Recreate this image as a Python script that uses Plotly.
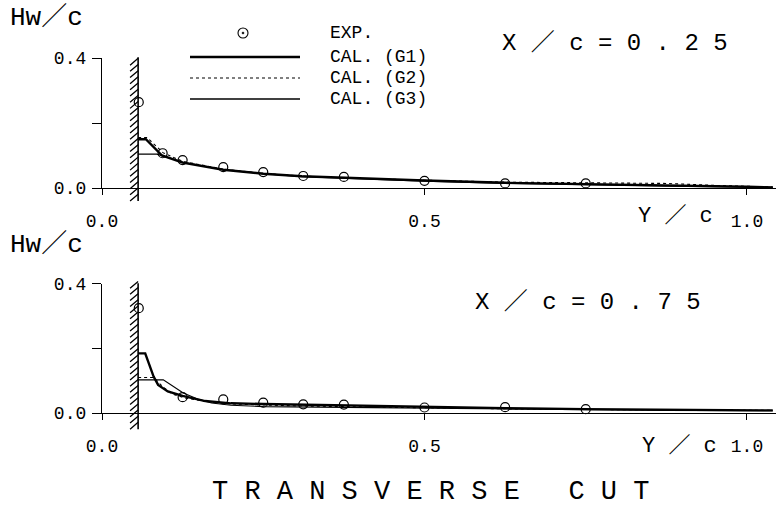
import plotly.graph_objects as go

# ---------------- data ----------------
WALL = 0.056

# top panel  X/c = 0.25
exp_y_top = [0.057, 0.094, 0.125, 0.188, 0.25, 0.312, 0.375, 0.5, 0.625, 0.75]
exp_h_top = [0.264, 0.107, 0.086, 0.064, 0.049, 0.037, 0.034, 0.022, 0.014, 0.014]

g1_y_top = [0.056, 0.068, 0.093, 0.125, 0.188, 0.25, 0.31, 0.375, 0.5, 0.625, 0.75, 0.875, 1.0, 1.04]
g1_h_top = [0.150, 0.150, 0.100, 0.078, 0.056, 0.044, 0.036, 0.031, 0.023, 0.016, 0.011, 0.008, 0.004, 0.002]
g2_y_top = [0.056, 0.070, 0.095, 0.125, 0.188, 0.25, 0.31, 0.375, 0.5, 0.625, 0.75, 0.875, 0.95, 1.0, 1.04]
g2_h_top = [0.155, 0.155, 0.108, 0.082, 0.058, 0.045, 0.037, 0.031, 0.024, 0.018, 0.016, 0.014, 0.008, 0.005, 0.003]
g3_y_top = [0.056, 0.085, 0.095, 0.125, 0.188, 0.25, 0.31, 0.375, 0.5, 0.625, 0.75, 0.875, 1.0, 1.04]
g3_h_top = [0.104, 0.104, 0.098, 0.080, 0.057, 0.044, 0.035, 0.030, 0.021, 0.014, 0.009, 0.006, 0.003, 0.002]

# bottom panel  X/c = 0.75
exp_y_bot = [0.057, 0.125, 0.188, 0.25, 0.312, 0.375, 0.5, 0.625, 0.75]
exp_h_bot = [0.325, 0.049, 0.042, 0.032, 0.027, 0.026, 0.017, 0.018, 0.012]

g1_y_bot = [0.056, 0.067, 0.080, 0.087, 0.102, 0.125, 0.16, 0.2, 0.25, 0.3, 0.4, 0.5, 0.625, 0.75, 0.875, 1.0, 1.04]
g1_h_bot = [0.185, 0.185, 0.113, 0.087, 0.067, 0.053, 0.037, 0.030, 0.028, 0.026, 0.022, 0.018, 0.015, 0.012, 0.010, 0.009, 0.008]
g2_y_bot = [0.056, 0.080, 0.095, 0.110, 0.130, 0.16, 0.2, 0.25, 0.3, 0.4, 0.5, 0.625, 0.75, 0.875, 1.0, 1.04]
g2_h_bot = [0.110, 0.110, 0.080, 0.058, 0.046, 0.036, 0.028, 0.024, 0.022, 0.019, 0.016, 0.013, 0.011, 0.009, 0.008, 0.008]
g3_y_bot = [0.056, 0.095, 0.126, 0.15, 0.17, 0.2, 0.25, 0.3, 0.4, 0.5, 0.625, 0.75, 0.875, 1.0, 1.04]
g3_h_bot = [0.103, 0.103, 0.062, 0.042, 0.031, 0.024, 0.020, 0.019, 0.017, 0.015, 0.012, 0.010, 0.008, 0.007, 0.007]

x_ticks = [0.0, 0.5, 1.0]
x_ticktext = ["0.0", "0.5", "1.0"]
y_ticks = [0.0, 0.2, 0.4]
y_ticktext = ["0.0", "", "0.4"]
panel_labels = ["X ／ c = 0 . 2 5", "X ／ c = 0 . 7 5"]
legend_labels = ["EXP.", "CAL. (G1)", "CAL. (G2)", "CAL. (G3)"]

# ---------------- layout geometry ----------------
W, H = 781, 507
ML, MR, MT, MB = 102, 5, 58, 94
XR = [0.0, 1.045]
YR = [0.0, 0.4]
DOM_TOP = [0.6338, 1.0]
DOM_BOT = [0.0, 0.3634]

PW = W - ML - MR
PH = H - MT - MB


def px2x(px):
    return (px - ML) / PW


def py2y(py):
    return (H - MB - py) / PH


def dx2paper(x):
    return (x - XR[0]) / (XR[1] - XR[0])


def dy2paper(v, dom):
    return dom[0] + (v - YR[0]) / (YR[1] - YR[0]) * (dom[1] - dom[0])


MONO = "Liberation Mono, Noto Sans CJK JP, monospace"
TICKFONT = dict(family="Liberation Mono", size=18, color="black")

fig = go.Figure()

panels = [
    ("x", "y", exp_y_top, exp_h_top, g1_y_top, g1_h_top, g2_y_top, g2_h_top, g3_y_top, g3_h_top),
    ("x2", "y2", exp_y_bot, exp_h_bot, g1_y_bot, g1_h_bot, g2_y_bot, g2_h_bot, g3_y_bot, g3_h_bot),
]
for xa, ya, ex, eh, a1, b1, a2, b2, a3, b3 in panels:
    fig.add_trace(go.Scatter(x=a3, y=b3, mode="lines", xaxis=xa, yaxis=ya,
                             line=dict(color="black", width=1.2), showlegend=False))
    fig.add_trace(go.Scatter(x=a2, y=b2, mode="lines", xaxis=xa, yaxis=ya,
                             line=dict(color="black", width=1.1, dash="dot"), showlegend=False))
    fig.add_trace(go.Scatter(x=a1, y=b1, mode="lines", xaxis=xa, yaxis=ya,
                             line=dict(color="black", width=2.4), showlegend=False))
    fig.add_trace(go.Scatter(x=ex, y=eh, mode="markers", xaxis=xa, yaxis=ya, cliponaxis=False,
                             marker=dict(symbol="circle-open", size=9, color="black",
                                         line=dict(width=1.2, color="black")),
                             showlegend=False))

xax = dict(range=XR, showgrid=False, zeroline=False, showline=True, linecolor="black",
           linewidth=1.3, ticks="outside", ticklen=6, tickwidth=1, tickcolor="black",
           tickvals=x_ticks, ticktext=x_ticktext, tickfont=TICKFONT, ticklabelstandoff=10)
yax = dict(range=YR, showgrid=False, zeroline=False, showline=True, linecolor="black",
           linewidth=1.3, ticks="outside", ticklen=9, tickwidth=1.2, tickcolor="black",
           tickvals=y_ticks, ticktext=y_ticktext, tickfont=TICKFONT, ticklabelstandoff=2)

fig.update_layout(
    width=W, height=H,
    margin=dict(l=ML, r=MR, t=MT, b=MB),
    paper_bgcolor="white", plot_bgcolor="white",
    showlegend=False,
    xaxis=dict(xax, anchor="y"),
    yaxis=dict(yax, domain=DOM_TOP, anchor="x"),
    xaxis2=dict(xax, anchor="y2"),
    yaxis2=dict(yax, domain=DOM_BOT, anchor="x2"),
)

shapes = []
# ---- hatched wall in each panel ----
for dom, vlo in [(DOM_TOP, -0.04), (DOM_BOT, -0.05)]:
    xw = dx2paper(WALL)
    xl = dx2paper(WALL - 0.0125)
    shapes.append(dict(type="line", xref="paper", yref="paper", x0=xw, x1=xw,
                       y0=dy2paper(vlo, dom), y1=dy2paper(0.402, dom),
                       line=dict(color="black", width=1.6)))
    path = ""
    v = vlo
    while v < 0.39:
        path += "M{:.5f},{:.5f} L{:.5f},{:.5f} ".format(xl, dy2paper(v, dom), xw, dy2paper(v + 0.021, dom))
        v += 0.019
    shapes.append(dict(type="path", xref="paper", yref="paper", path=path,
                       line=dict(color="black", width=1.3)))

# ---- legend ----
leg_y = [33, 57, 78, 99]
cx, cy = 243, leg_y[0]
shapes.append(dict(type="circle", xref="paper", yref="paper",
                   x0=px2x(cx - 5), x1=px2x(cx + 5), y0=py2y(cy + 5), y1=py2y(cy - 5),
                   line=dict(color="black", width=1.1)))
shapes.append(dict(type="circle", xref="paper", yref="paper", fillcolor="black",
                   x0=px2x(cx - 1), x1=px2x(cx + 1), y0=py2y(cy + 1), y1=py2y(cy - 1),
                   line=dict(color="black", width=0.5)))
leg_styles = [dict(width=2.4), dict(width=1.1, dash="dot"), dict(width=1.6)]
for i, st in enumerate(leg_styles):
    shapes.append(dict(type="line", xref="paper", yref="paper",
                       x0=px2x(190), x1=px2x(300), y0=py2y(leg_y[i + 1]), y1=py2y(leg_y[i + 1]),
                       line=dict(color="black", **st)))

fig.update_layout(shapes=shapes)

ann = []
for i, t in enumerate(legend_labels):
    ann.append(dict(text=t, x=px2x(328), y=py2y(leg_y[i]), xref="paper", yref="paper",
                    xanchor="left", yanchor="middle", showarrow=False,
                    font=dict(family=MONO, size=18, color="black")))

# axis titles
for py in [18, 245]:
    ann.append(dict(text="Hw／c", x=px2x(8), y=py2y(py), xref="paper", yref="paper",
                    xanchor="left", yanchor="middle", showarrow=False,
                    font=dict(family=MONO, size=26, color="black")))
for px, py in [(636, 216), (640, 446)]:
    ann.append(dict(text="Y ／ c", x=px2x(px), y=py2y(py), xref="paper", yref="paper",
                    xanchor="left", yanchor="middle", showarrow=False,
                    font=dict(family=MONO, size=22, color="black")))
for (px, py), t in zip([(500, 43), (473, 302)], panel_labels):
    ann.append(dict(text=t, x=px2x(px), y=py2y(py), xref="paper", yref="paper",
                    xanchor="left", yanchor="middle", showarrow=False,
                    font=dict(family=MONO, size=24, color="black")))
ann.append(dict(text="T R A N S V E R S E   C U T", x=px2x(430), y=py2y(492),
                xref="paper", yref="paper", xanchor="center", yanchor="middle",
                showarrow=False, font=dict(family=MONO, size=27, color="black")))

fig.update_layout(annotations=ann)

fig.write_html("out.html")
